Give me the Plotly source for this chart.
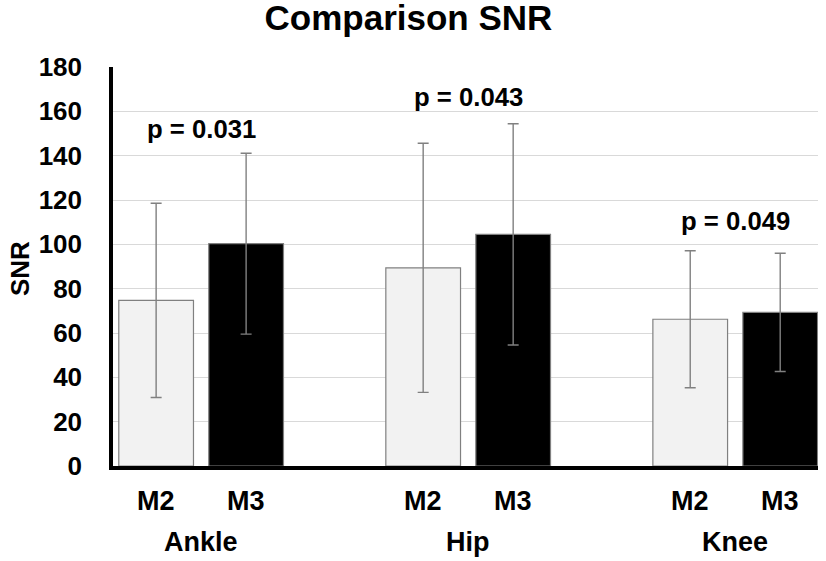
import plotly.graph_objects as go

groups = ["Ankle", "Hip", "Knee"]
series_names = ["M2", "M3"]
m2_values = [74.7, 89.4, 66.2]
m2_errors = [43.8, 56.2, 30.9]
m3_values = [100.3, 104.5, 69.3]
m3_errors = [40.8, 49.9, 26.7]
p_labels = ["p = 0.031", "p = 0.043", "p = 0.049"]
p_label_y = [152, 166.5, 110.5]
y_ticks = [0, 20, 40, 60, 80, 100, 120, 140, 160, 180]

FONT = "Liberation Sans, Arial, sans-serif"
gx = list(range(len(groups)))

bargap = 0.326
bargroupgap = 0.17
half_slot = (1 - bargap) / 4  # centre offset of each bar within a group

fig = go.Figure()
fig.add_trace(go.Bar(
    x=gx, y=m2_values, name="M2",
    marker=dict(color="#f2f2f2", line=dict(color="#808080", width=1.2)),
    error_y=dict(type="data", array=m2_errors, color="#808080", thickness=1.4, width=5.5),
))
fig.add_trace(go.Bar(
    x=gx, y=m3_values, name="M3",
    marker=dict(color="#000000", line=dict(color="#808080", width=1.2)),
    error_y=dict(type="data", array=m3_errors, color="#808080", thickness=1.4, width=5.5),
))

annotations = []
for i, g in enumerate(groups):
    for k, s in enumerate(series_names):
        annotations.append(dict(
            x=i + (-half_slot if k == 0 else half_slot), y=-0.088, xref="x", yref="paper",
            text=s, showarrow=False, yanchor="middle",
            font=dict(family=FONT, size=27, color="black", weight="bold"),
        ))
    annotations.append(dict(
        x=i, y=-0.19, xref="x", yref="paper", text=g, showarrow=False, yanchor="middle",
        font=dict(family=FONT, size=27, color="black", weight="bold"),
    ))
    annotations.append(dict(
        x=i, y=p_label_y[i], xref="x", yref="y", text=p_labels[i], showarrow=False,
        yanchor="middle",
        font=dict(family=FONT, size=25.7, color="black", weight="bold"),
    ))
annotations.append(dict(
    x=-0.132, y=0.496, xref="paper", yref="paper", text="SNR", showarrow=False,
    textangle=-90, xanchor="center", yanchor="middle",
    font=dict(family=FONT, size=26, color="black", weight="bold"),
))

fig.update_layout(
    width=826, height=561,
    margin=dict(l=113, r=8, t=67, b=95),
    paper_bgcolor="white", plot_bgcolor="white",
    barmode="group", bargap=bargap, bargroupgap=bargroupgap,
    showlegend=False,
    title=dict(text="Comparison SNR", x=0.4945, xanchor="center", y=0.969, yanchor="middle",
               font=dict(family=FONT, size=35, color="black", weight="bold")),
    annotations=annotations,
)
fig.update_xaxes(
    range=[-0.33, 2.31], showticklabels=False, showgrid=False, zeroline=False,
    showline=True, linecolor="black", linewidth=3.5, ticks="",
)
fig.update_yaxes(
    range=[0, 180], tickvals=y_ticks, showgrid=True, gridcolor="#d9d9d9", gridwidth=1,
    zeroline=False, showline=True, linecolor="black", linewidth=3.5, ticks="",
    ticklabelstandoff=22,
    tickfont=dict(family=FONT, size=26, color="black", weight="bold"),
)

fig.write_html(
    "out.html",
    config={"displayModeBar": False},
    post_script="document.body.style.margin='0px';document.body.style.overflow='hidden';",
)
